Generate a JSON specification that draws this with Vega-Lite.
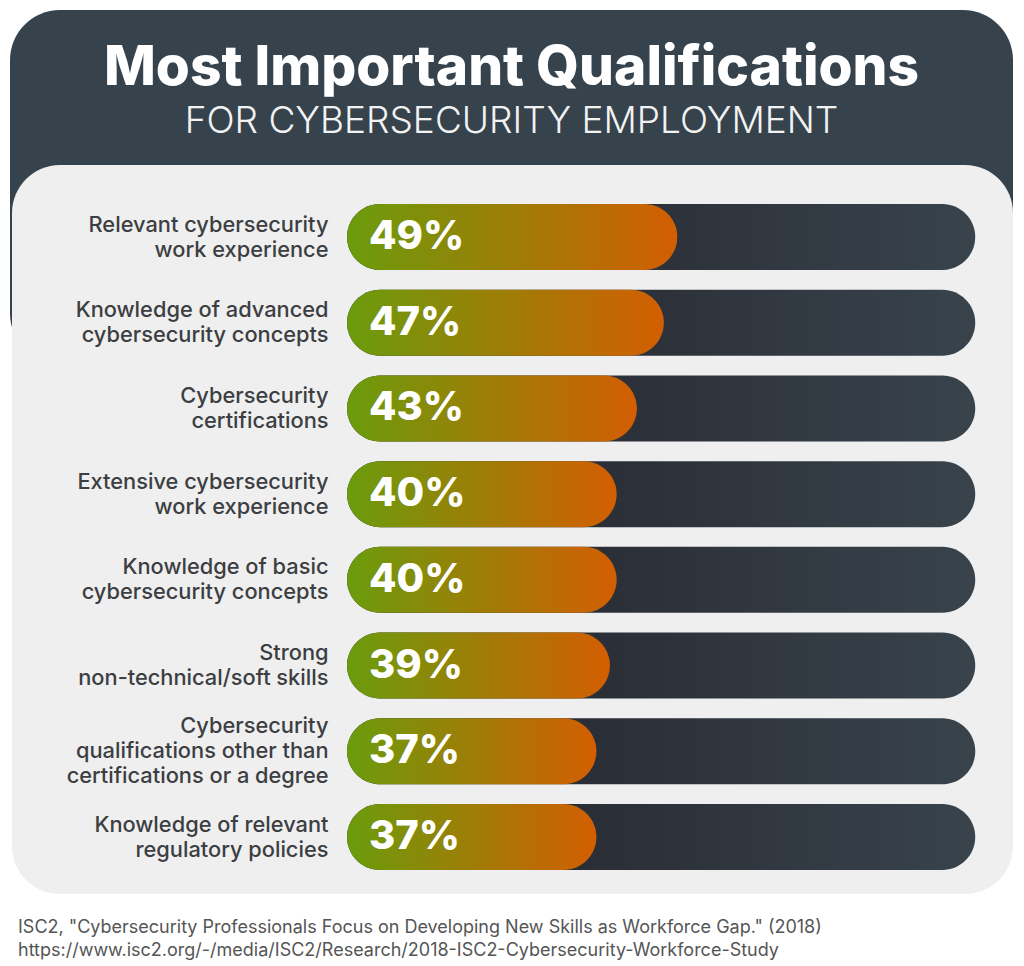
{
  "$schema": "https://vega.github.io/schema/vega-lite/v6.json",
  "padding": {"left": 10, "right": 11, "top": 10, "bottom": 0},
  "background": "#ffffff",
  "width": 1003,
  "height": 884,
  "config": {"view": {"stroke": null}, "font": "Inter"},
  "title": {
    "text": ["ISC2, \"Cybersecurity Professionals Focus on Developing New Skills as Workforce Gap.\" (2018)", "https://www.isc2.org/-/media/ISC2/Research/2018-ISC2-Cybersecurity-Workforce-Study"],
    "orient": "bottom",
    "anchor": "start",
    "offset": 25,
    "dx": 8,
    "font": "Inter",
    "fontSize": 18,
    "letterSpacing": 0.1,
    "fontWeight": "normal",
    "color": "#555555",
    "lineHeight": 23
  },
  "datasets": {
    "rows": [
      {"q": "Relevant cybersecurity|work experience", "v": 0.49},
      {"q": "Knowledge of advanced|cybersecurity concepts", "v": 0.47},
      {"q": "Cybersecurity|certifications", "v": 0.43},
      {"q": "Extensive cybersecurity|work experience", "v": 0.40},
      {"q": "Knowledge of basic|cybersecurity concepts", "v": 0.40},
      {"q": "Strong|non-technical/soft skills", "v": 0.39},
      {"q": "Cybersecurity|qualifications other than|certifications or a degree", "v": 0.37},
      {"q": "Knowledge of relevant|regulatory policies", "v": 0.37}
    ]
  },
  "resolve": {"scale": {"x": "independent", "y": "independent"}},
  "layer": [
    {
      "data": {"values": [{}]},
      "encoding": {
        "x": {"datum": 0, "type": "quantitative", "scale": {"domain": [0, 1], "nice": false, "zero": false}, "axis": null},
        "y": {"datum": 0, "type": "quantitative", "scale": {"domain": [0, 1], "nice": false, "zero": false, "reverse": true}, "axis": null}
      },
      "layer": [
        {
          "mark": {"type": "rect", "fill": "#36424c", "cornerRadius": 50},
          "encoding": {
            "x": {"datum": 0, "type": "quantitative"},
            "x2": {"datum": 1},
            "y": {"datum": 0, "type": "quantitative"},
            "y2": {"datum": 0.4}
          }
        },
        {
          "mark": {"type": "rect", "fill": "#efefef", "cornerRadius": 48},
          "encoding": {
            "x": {"datum": 0.002, "type": "quantitative"},
            "x2": {"datum": 1},
            "y": {"datum": 0.1753, "type": "quantitative"},
            "y2": {"datum": 1}
          }
        },
        {
          "mark": {"type": "text", "text": "Most Important Qualifications", "font": "Inter", "fontWeight": 800, "fontSize": 55, "letterSpacing": 0.3, "color": "#ffffff", "align": "center", "baseline": "alphabetic"},
          "encoding": {
            "x": {"datum": 0.5, "type": "quantitative"},
            "y": {"datum": 0.0848, "type": "quantitative"}
          }
        },
        {
          "mark": {"type": "text", "text": "FOR CYBERSECURITY EMPLOYMENT", "font": "Inter", "fontWeight": 300, "fontSize": 37, "letterSpacing": 4.5, "color": "#f2f2f2", "align": "center", "baseline": "alphabetic"},
          "encoding": {
            "x": {"datum": 0.5, "type": "quantitative"},
            "y": {"datum": 0.1391, "type": "quantitative"}
          }
        }
      ]
    },
    {
      "data": {"name": "rows"},
      "mark": {
        "type": "bar",
        "cornerRadius": 33,
        "fill": {"gradient": "linear", "x1": 0, "y1": 0, "x2": 1, "y2": 0, "stops": [{"offset": 0, "color": "#1f2228"}, {"offset": 0.45, "color": "#2c3038"}, {"offset": 1, "color": "#38434c"}]}
      },
      "encoding": {
        "y": {
          "field": "q",
          "type": "nominal",
          "sort": null,
          "scale": {"type": "band", "paddingInner": 0.23, "paddingOuter": 0, "range": [194, 860]},
          "axis": {
            "title": null,
            "orient": "left",
            "offset": -318,
            "zindex": 2,
            "domain": false,
            "ticks": false,
            "grid": false,
            "labelPadding": 0,
            "labelExpr": "split(datum.label, '|')",
            "labelOffset": {"condition": {"test": "length(split(datum.value, '|')) == 3", "value": -25}, "value": -12.5},
            "labelFont": "Inter",
            "labelFontSize": 21.8,
            "labelFontWeight": 500,
            "labelColor": "#3c3e42",
            "labelLineHeight": 25,
            "labelLimit": 500,
            "labelAlign": "right",
            "labelBaseline": "middle"
          }
        },
        "x": {"datum": 0, "type": "quantitative", "scale": {"domain": [-0.5, 0.988], "nice": false, "zero": false}, "axis": null},
        "x2": {"datum": 0.932}
      }
    },
    {
      "data": {"name": "rows"},
      "mark": {
        "type": "bar",
        "cornerRadius": 33,
        "fill": {"gradient": "linear", "x1": 0, "y1": 0, "x2": 1, "y2": 0, "stops": [{"offset": 0, "color": "#6a9c0c"}, {"offset": 1, "color": "#d35e02"}]}
      },
      "encoding": {
        "y": {"field": "q", "type": "nominal", "sort": null, "scale": {"type": "band", "paddingInner": 0.23, "paddingOuter": 0, "range": [194, 860]}, "axis": null},
        "x": {"field": "v", "type": "quantitative", "scale": {"domain": [-0.5, 0.988], "nice": false, "zero": false}, "axis": null},
        "x2": {"datum": 0}
      }
    },
    {
      "data": {"name": "rows"},
      "mark": {"type": "text", "align": "left", "baseline": "middle", "dx": 22, "font": "Inter", "fontWeight": 800, "fontSize": 40, "color": "#ffffff"},
      "encoding": {
        "y": {"field": "q", "type": "nominal", "sort": null, "scale": {"type": "band", "paddingInner": 0.23, "paddingOuter": 0, "range": [194, 860]}, "axis": null},
        "x": {"datum": 0, "type": "quantitative", "scale": {"domain": [-0.5, 0.988], "nice": false, "zero": false}, "axis": null},
        "text": {"field": "v", "type": "quantitative", "format": ".0%"}
      }
    }
  ]
}
